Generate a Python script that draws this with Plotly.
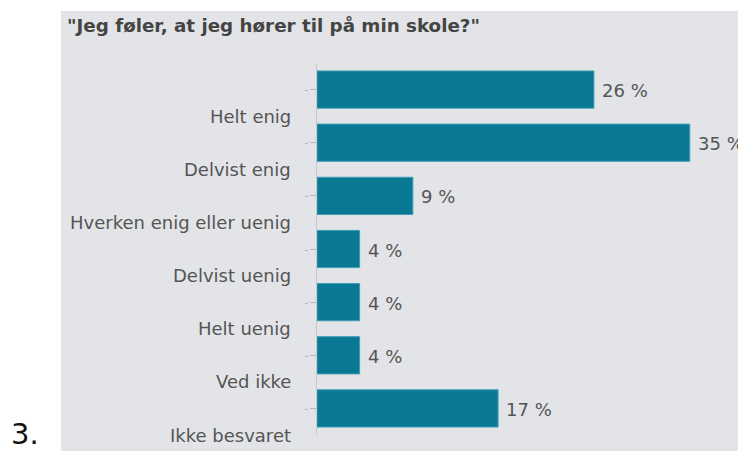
import plotly.graph_objects as go

categories = ["Helt enig", "Delvist enig", "Hverken enig eller uenig",
              "Delvist uenig", "Helt uenig", "Ved ikke", "Ikke besvaret"]
values = [26, 35, 9, 4, 4, 4, 17]
title_text = '"Jeg føler, at jeg hører til på min skole?"'
item_number = "3."

W, H = 738, 451
ML, MR, MT, MB = 317, 0, 63, 16
PW = W - ML - MR
PH = H - MT - MB

def px_x(px):
    return (px - ML) / PW

def px_y(py):
    return (H - MB - py) / PH

FONT = "DejaVu Sans"
BAR = "#087893"
PANEL = "#e2e4e7"
TXT = "#555555"

idx = list(range(len(categories)))

fig = go.Figure()
fig.add_trace(go.Bar(
    x=values, y=idx, orientation="h", width=0.7,
    marker=dict(color=BAR, line=dict(color="#3f9cb6", width=1)),
    hoverinfo="skip", showlegend=False,
))

annotations = []
for i, v in zip(idx, values):
    annotations.append(dict(
        x=v, y=i, xref="x", yref="y", text=f"{v} %", showarrow=False,
        xanchor="left", yanchor="middle", xshift=6, yshift=-1,
        font=dict(family=FONT, size=18, color=TXT),
    ))
for i, c in zip(idx, categories):
    annotations.append(dict(
        x=px_x(293), y=i + 0.5, xref="paper", yref="y", text=c, showarrow=False,
        xanchor="right", yanchor="middle",
        font=dict(family=FONT, size=18, color=TXT),
    ))
annotations.append(dict(
    x=px_x(65), y=px_y(25), xref="paper", yref="paper", text=title_text,
    showarrow=False, xanchor="left", yanchor="middle",
    font=dict(family=FONT, size=18.3, color="#444444", weight="bold"),
))
annotations.append(dict(
    x=px_x(9), y=px_y(434), xref="paper", yref="paper", text=item_number,
    showarrow=False, xanchor="left", yanchor="middle",
    font=dict(family=FONT, size=29, color="#111111"),
))

fig.update_layout(
    width=W, height=H,
    margin=dict(l=ML, r=MR, t=MT, b=MB, pad=0),
    paper_bgcolor="white",
    plot_bgcolor="rgba(0,0,0,0)",
    shapes=[dict(type="rect", xref="paper", yref="paper",
                 x0=px_x(61), x1=1.05, y0=px_y(460), y1=px_y(11),
                 fillcolor=PANEL, line=dict(width=0), layer="below")],
    annotations=annotations,
    xaxis=dict(range=[0, PW / 10.65], visible=False, fixedrange=True),
    yaxis=dict(range=[len(categories) - 0.5, -0.5], tickmode="array",
               tickvals=idx, ticktext=["-"] * len(idx),
               tickfont=dict(family=FONT, size=10, color="#aaaaaa"),
               ticks="outside", ticklen=6, tickcolor="#b5b7ba", tickwidth=1,
               showline=True, linecolor="#c6c8cb", linewidth=1,
               showgrid=False, zeroline=False, fixedrange=True),
)

fig.write_html(
    "out.html",
    config={"displayModeBar": False},
    post_script="document.body.style.margin='0';document.body.style.overflow='hidden';",
)
